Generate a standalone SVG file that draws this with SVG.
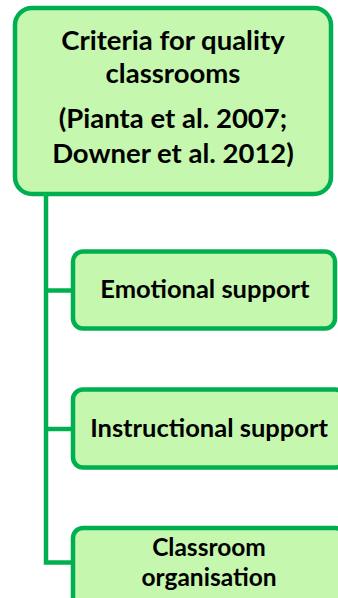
<svg xmlns="http://www.w3.org/2000/svg" width="338" height="598" viewBox="0 0 338 598">
  <style>
    .box { fill: #C6F7AF; stroke: #00B050; stroke-width: 4.5; }
    .link { fill: none; stroke: #00B050; stroke-width: 4.5; }
    .label { font-family: Lato, "Liberation Sans", sans-serif; font-weight: bold; fill: #000; text-anchor: middle; }
    .title { font-size: 27.5px; }
    .item { font-size: 25.5px; }
    .tight { font-size: 24.5px; }
  </style>
  <rect width="338" height="598" fill="#FFFFFF"/>

  <!-- tree connectors from the root down to each child -->
  <g id="connectors">
    <path class="link" d="M46 194 V562.5 H73"/>
    <path class="link" d="M46 290.5 H73"/>
    <path class="link" d="M46 429 H73"/>
  </g>

  <g id="root">
    <rect class="box" x="15" y="8" width="316" height="186" rx="17"/>
    <text class="label title" x="173" y="50">Criteria for quality</text>
    <text class="label title" x="173" y="83">classrooms</text>
    <text class="label title" x="173" y="128">(Pianta et al. 2007;</text>
    <text class="label title" x="173" y="163">Downer et al. 2012)</text>
  </g>

  <g id="emotional">
    <rect class="box" x="73" y="251.5" width="262" height="77" rx="10"/>
    <text class="label item" x="205" y="298">Emotional support</text>
  </g>

  <g id="instructional">
    <rect class="box" x="73" y="389.5" width="272" height="78" rx="10"/>
    <text class="label item" x="209" y="437">Instructional support</text>
  </g>

  <g id="organisation">
    <rect class="box" x="73" y="528" width="272" height="90" rx="10"/>
    <text class="label tight" x="209" y="556">Classroom</text>
    <text class="label tight" x="209" y="586">organisation</text>
  </g>
</svg>
